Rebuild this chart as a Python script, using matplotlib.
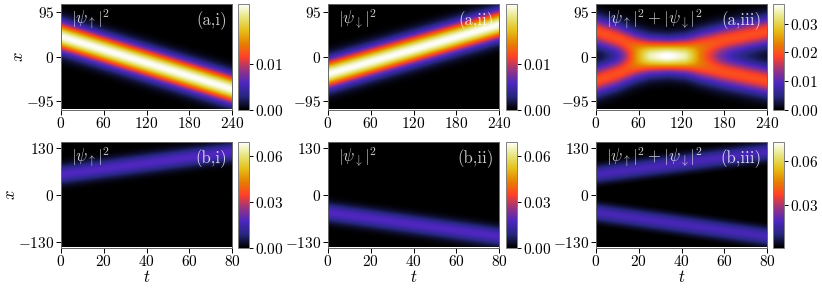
import numpy as np
import matplotlib
matplotlib.use("Agg")
import matplotlib.pyplot as plt
from matplotlib.ticker import FixedLocator, FuncFormatter

plt.rcParams['font.family'] = 'serif'
plt.rcParams['font.serif'] = ['cmr10', 'DejaVu Serif']
plt.rcParams['mathtext.fontset'] = 'cm'
plt.rcParams['axes.formatter.use_mathtext'] = True

# ---- values ----
# row (a): box and time span
xa_lim = 112
ta_end = 240
# (a,i) spin-up packet: centre at sample times
up_a_t = [0, 240]
up_a_x = [41, -70]
# (a,ii) spin-down packet
down_a_t = [0, 240]
down_a_x = [-38, 66]
width_a = 20
peak_a = 0.0228
# (a,iii) total density: upper branch of the X (lower one is its mirror)
tot_a_t = [0, 30, 55, 75, 100, 125, 145, 180, 240]
tot_a_x = [52, 37, 21, 11, 6, 11, 21, 34, 52]
width_tot = 21
peak_tot = 0.0196

# row (b)
xb_lim = 146
tb_end = 80
up_b_t = [0, 80]
up_b_x = [54, 116]
down_b_t = [0, 80]
down_b_x = [-51, -117]
width_b = 17
peak_b = 0.0178

# colour ranges and ticks
vlims = [(0, 0.023), (0, 0.023), (0, 0.037), (0, 0.069), (0, 0.069), (0.001, 0.073)]
cticks = [[0, 0.01], [0, 0.01], [0, 0.01, 0.02, 0.03],
          [0, 0.03, 0.06], [0, 0.03, 0.06], [0.03, 0.06]]
ticks_ta = [0, 60, 120, 180, 240]
ticks_tb = [0, 20, 40, 60, 80]
ticks_xa = [-95, 0, 95]
ticks_xb = [-130, 0, 130]

names = [r'$|\psi_\uparrow|^2$', r'$|\psi_\downarrow|^2$',
         r'$|\psi_\uparrow|^2+|\psi_\downarrow|^2$']
tags = ['(a,i)', '(a,ii)', '(a,iii)', '(b,i)', '(b,ii)', '(b,iii)']


def packet(tt, xx, t_pts, x_pts, w, p):
    c = np.interp(tt, t_pts, x_pts)
    return p * np.exp(-(xx - c) ** 2 / (2 * w ** 2))


ta, xa = np.meshgrid(np.linspace(0, ta_end, 400), np.linspace(-xa_lim, xa_lim, 400))
tb, xb = np.meshgrid(np.linspace(0, tb_end, 400), np.linspace(-xb_lim, xb_lim, 400))

a1 = packet(ta, xa, up_a_t, up_a_x, width_a, peak_a)
a2 = packet(ta, xa, down_a_t, down_a_x, width_a, peak_a)
a3 = (packet(ta, xa, tot_a_t, tot_a_x, width_tot, peak_tot)
      + packet(ta, xa, tot_a_t, [-v for v in tot_a_x], width_tot, peak_tot))
b1 = packet(tb, xb, up_b_t, up_b_x, width_b, peak_b)
b2 = packet(tb, xb, down_b_t, down_b_x, width_b, peak_b)
b3 = b1 + b2
fields = [a1, a2, a3, b1, b2, b3]

W, H = 822, 292
fig = plt.figure(figsize=(W / 100, H / 100), dpi=100)
lefts = [61, 328, 596]
cb_lefts = [238, 506, 772.5]
tops = [4, 142]
aw, ah, cw = 171, 105.5, 11

fmt_ax = FuncFormatter(lambda v, p: '$%g$' % v)
fmt_cb = FuncFormatter(lambda v, p: '$%.2f$' % v)

for k in range(6):
    r, c = divmod(k, 3)
    ax = fig.add_axes([lefts[c] / W, (H - tops[r] - ah) / H, aw / W, ah / H])
    cax = fig.add_axes([cb_lefts[c] / W, (H - tops[r] - ah) / H, cw / W, ah / H])
    if r == 0:
        ext = [0, ta_end, -xa_lim, xa_lim]
        tt, xt = ticks_ta, ticks_xa
    else:
        ext = [0, tb_end, -xb_lim, xb_lim]
        tt, xt = ticks_tb, ticks_xb
    im = ax.imshow(fields[k], extent=ext, origin='lower', aspect='auto',
                   cmap='CMRmap', vmin=vlims[k][0], vmax=vlims[k][1],
                   interpolation='bilinear')
    ax.xaxis.set_major_locator(FixedLocator(tt))
    ax.yaxis.set_major_locator(FixedLocator(xt))
    ax.xaxis.set_major_formatter(fmt_ax)
    ax.yaxis.set_major_formatter(fmt_ax)
    ax.tick_params(labelsize=11, length=3.5, width=0.7, pad=1.5)
    for s in ax.spines.values():
        s.set_color('0.4')
        s.set_linewidth(0.7)
    ax.text(0.06, 0.97, names[c], transform=ax.transAxes, ha='left', va='top',
            color='white', alpha=0.8, fontsize=12)
    ax.text(0.97, 0.93, tags[k], transform=ax.transAxes, ha='right', va='top',
            color='white', alpha=0.8, fontsize=12)
    if c == 0:
        ax.set_ylabel('$x$', fontsize=12, labelpad=0)
    if r == 1:
        ax.set_xlabel('$t$', fontsize=12, labelpad=0)
    cb = fig.colorbar(im, cax=cax)
    cb.set_ticks(cticks[k])
    cb.ax.yaxis.set_major_formatter(fmt_cb)
    cb.ax.tick_params(labelsize=11, length=3, width=0.7, pad=1.5)
    cb.outline.set_edgecolor('0.5')
    cb.outline.set_linewidth(0.7)

fig.savefig('out.png', dpi=100)
